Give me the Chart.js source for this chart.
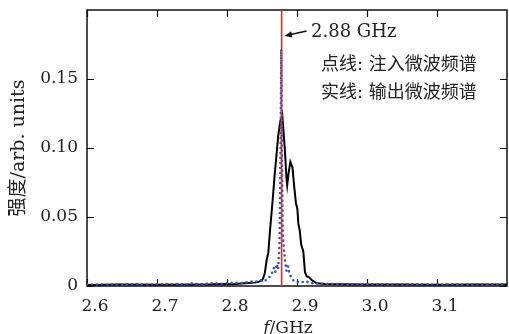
<!DOCTYPE html>
<html>
<head>
<meta charset="utf-8">
<script src="https://cdn.jsdelivr.net/npm/chart.js@4.4.1/dist/chart.umd.min.js"></script>
<style>
  body { margin: 0; background: #fff; }
  canvas { display: block; }
</style>
</head>
<body>
<canvas id="c" width="509" height="334"></canvas>
<script>
// injected microwave spectrum (dotted)
const freqInjected = [2.600, 2.610, 2.620, 2.630, 2.640, 2.650, 2.660, 2.670, 2.680, 2.690,
  2.700, 2.710, 2.720, 2.730, 2.740, 2.750, 2.760, 2.770, 2.780, 2.790,
  2.800, 2.810, 2.820, 2.830, 2.840, 2.845, 2.850, 2.855, 2.860, 2.864,
  2.867, 2.869, 2.871, 2.873, 2.875, 2.8765, 2.8775, 2.8785, 2.8795, 2.881,
  2.883, 2.885, 2.887, 2.889, 2.892, 2.895, 2.900, 2.905, 2.910, 2.915,
  2.920, 2.930, 2.940, 2.960, 2.980, 3.000, 3.020, 3.040, 3.060, 3.080,
  3.100, 3.120, 3.140, 3.160, 3.180, 3.200];
const injected = [0.0012, 0.0010, 0.0013, 0.0011, 0.0012, 0.0010, 0.0012, 0.0014, 0.0011, 0.0013,
  0.0012, 0.0015, 0.0012, 0.0014, 0.0011, 0.0018, 0.0013, 0.0016, 0.0020, 0.0015,
  0.0019, 0.0024, 0.0020, 0.0028, 0.0035, 0.0030, 0.0045, 0.0040, 0.0060, 0.0090,
  0.0130, 0.0100, 0.0160, 0.0120, 0.0300, 0.1000, 0.1715, 0.0900, 0.0400, 0.0280,
  0.0180, 0.0110, 0.0160, 0.0090, 0.0060, 0.0040, 0.0030, 0.0035, 0.0025, 0.0030,
  0.0020, 0.0018, 0.0015, 0.0014, 0.0013, 0.0012, 0.0013, 0.0011, 0.0012, 0.0012,
  0.0011, 0.0012, 0.0011, 0.0012, 0.0011, 0.0012];

// output microwave spectrum (solid)
const freqOutput = [2.600, 2.650, 2.700, 2.750, 2.780, 2.800, 2.810, 2.820, 2.830, 2.840,
  2.845, 2.850, 2.852, 2.854, 2.8567, 2.859, 2.8614, 2.864, 2.866, 2.868,
  2.870, 2.873, 2.876, 2.879, 2.8825, 2.885, 2.886, 2.888, 2.8905, 2.8935,
  2.896, 2.8985, 2.9005, 2.902, 2.904, 2.906, 2.909, 2.9114, 2.914, 2.917,
  2.921, 2.928, 2.940, 2.960, 3.000, 3.050, 3.100, 3.150, 3.200];
const output = [0.0008, 0.0010, 0.0009, 0.0011, 0.0012, 0.0015, 0.0012, 0.0018, 0.0022, 0.0025,
  0.0030, 0.0040, 0.0060, 0.0094, 0.0190, 0.0240, 0.0400, 0.0550, 0.0670, 0.0800,
  0.0910, 0.1080, 0.1190, 0.1240, 0.1000, 0.0780, 0.0730, 0.0820, 0.0900, 0.0860,
  0.0720, 0.0600, 0.0560, 0.0450, 0.0400, 0.0300, 0.0250, 0.0100, 0.0070, 0.0065,
  0.0043, 0.0020, 0.0015, 0.0012, 0.0010, 0.0011, 0.0009, 0.0010, 0.0010];

// marker line at 2.88 GHz
const markerFreq = [2.878, 2.878];
const markerLevel = [0, 0.2];

const xTicks = [2.6, 2.7, 2.8, 2.9, 3.0, 3.1];
const yTicks = [0, 0.05, 0.10, 0.15];

const toPoints = (xs, ys) => xs.map((x, i) => ({ x: x, y: ys[i] }));

const serif = '"DejaVu Serif", "Noto Sans CJK SC", serif';

// frame + inward ticks under the data, annotations on top
const framePlugin = {
  id: 'frame',
  beforeDatasetsDraw(chart) {
    const ctx = chart.ctx;
    const a = chart.chartArea;
    const xs = chart.scales.x;
    const ys = chart.scales.y;
    ctx.save();
    ctx.strokeStyle = '#111';
    ctx.lineWidth = 1.5;
    ctx.strokeRect(a.left, a.top, a.right - a.left, a.bottom - a.top);

    ctx.lineWidth = 1.2;
    ctx.beginPath();
    xTicks.forEach(v => {
      const px = Math.round(xs.getPixelForValue(v)) + 0.5;
      ctx.moveTo(px, a.bottom); ctx.lineTo(px, a.bottom - 7);
      ctx.moveTo(px, a.top); ctx.lineTo(px, a.top + 7);
    });
    yTicks.forEach(v => {
      const py = Math.round(ys.getPixelForValue(v)) + 0.5;
      ctx.moveTo(a.left, py); ctx.lineTo(a.left + 7, py);
      ctx.moveTo(a.right, py); ctx.lineTo(a.right - 7, py);
    });
    ctx.stroke();
    ctx.restore();
  },
  afterDatasetsDraw(chart) {
    const ctx = chart.ctx;
    const xs = chart.scales.x;
    ctx.save();

    // arrow pointing at the marker line
    const mx = xs.getPixelForValue(markerFreq[0]);
    const tipX = mx + 3, tipY = 36;
    const tailX = mx + 25, tailY = 31;
    ctx.strokeStyle = '#111';
    ctx.lineWidth = 1.6;
    ctx.beginPath();
    ctx.moveTo(tailX, tailY);
    ctx.lineTo(tipX + 4, tipY - 1);
    ctx.stroke();
    const ang = Math.atan2(tipY - tailY, tipX - tailX);
    ctx.fillStyle = '#111';
    ctx.beginPath();
    ctx.moveTo(tipX, tipY);
    ctx.lineTo(tipX - 8 * Math.cos(ang - 0.4), tipY - 8 * Math.sin(ang - 0.4));
    ctx.lineTo(tipX - 8 * Math.cos(ang + 0.4), tipY - 8 * Math.sin(ang + 0.4));
    ctx.closePath();
    ctx.fill();

    ctx.fillStyle = '#222';
    ctx.textBaseline = 'middle';
    ctx.textAlign = 'left';
    ctx.font = '18px ' + serif;
    ctx.fillText('2.88 GHz', 311, 32);

    ctx.font = '18px ' + serif;
    ctx.fillText('点线: 注入微波频谱', 321, 65);
    ctx.fillText('实线: 输出微波频谱', 321, 93);

    // x axis title with italic f
    ctx.textBaseline = 'alphabetic';
    ctx.font = 'italic 17px ' + serif;
    const fW = ctx.measureText('f').width;
    ctx.font = '17px ' + serif;
    const restW = ctx.measureText('/GHz').width;
    const startX = 288 - (fW + restW) / 2;
    ctx.font = 'italic 17px ' + serif;
    ctx.fillText('f', startX, 333);
    ctx.font = '17px ' + serif;
    ctx.fillText('/GHz', startX + fW, 333);
    ctx.restore();
  }
};

new Chart(document.getElementById('c'), {
  type: 'line',
  data: {
    datasets: [
      {
        label: '2.88 GHz',
        data: toPoints(markerFreq, markerLevel),
        borderColor: '#e8262b',
        borderWidth: 1.6,
        pointRadius: 0,
        order: 0
      },
      {
        label: '注入微波频谱',
        data: toPoints(freqInjected, injected),
        borderColor: '#3a55a6',
        borderWidth: 2.6,
        borderDash: [0, 5],
        borderCapStyle: 'round',
        pointRadius: 0,
        order: 1
      },
      {
        label: '输出微波频谱',
        data: toPoints(freqOutput, output),
        borderColor: '#000',
        borderWidth: 2,
        pointRadius: 0,
        order: 2
      }
    ]
  },
  options: {
    responsive: false,
    devicePixelRatio: 1,
    animation: false,
    layout: { padding: { top: 10, right: 2, left: 0, bottom: 0 } },
    plugins: { legend: { display: false }, tooltip: { enabled: false } },
    elements: { line: { tension: 0 } },
    scales: {
      x: {
        type: 'linear',
        min: 2.6,
        max: 3.2,
        grid: { display: false, drawTicks: false },
        border: { display: false },
        afterBuildTicks: s => { s.ticks = xTicks.map(v => ({ value: v })); },
        afterFit: s => { s.height = 48; s.paddingLeft = 0; s.paddingRight = 0; },
        ticks: {
          padding: 10,
          labelOffset: 8,
          color: '#222',
          font: { family: serif, size: 17 },
          maxRotation: 0,
          callback: v => v.toFixed(1)
        }
      },
      y: {
        min: 0,
        max: 0.2,
        grid: { display: false, drawTicks: false },
        border: { display: false },
        afterBuildTicks: s => { s.ticks = yTicks.map(v => ({ value: v })); },
        afterFit: s => { s.width = 87; s.paddingTop = 0; s.paddingBottom = 0; },
        title: {
          display: true,
          text: '强度/arb. units',
          color: '#222',
          font: { family: serif, size: 19 },
          padding: { top: 8, bottom: 0 }
        },
        ticks: {
          padding: 9,
          color: '#222',
          font: { family: serif, size: 17 },
          callback: v => v === 0 ? '0' : v.toFixed(2)
        }
      }
    }
  },
  plugins: [framePlugin]
});
</script>
</body>
</html>
